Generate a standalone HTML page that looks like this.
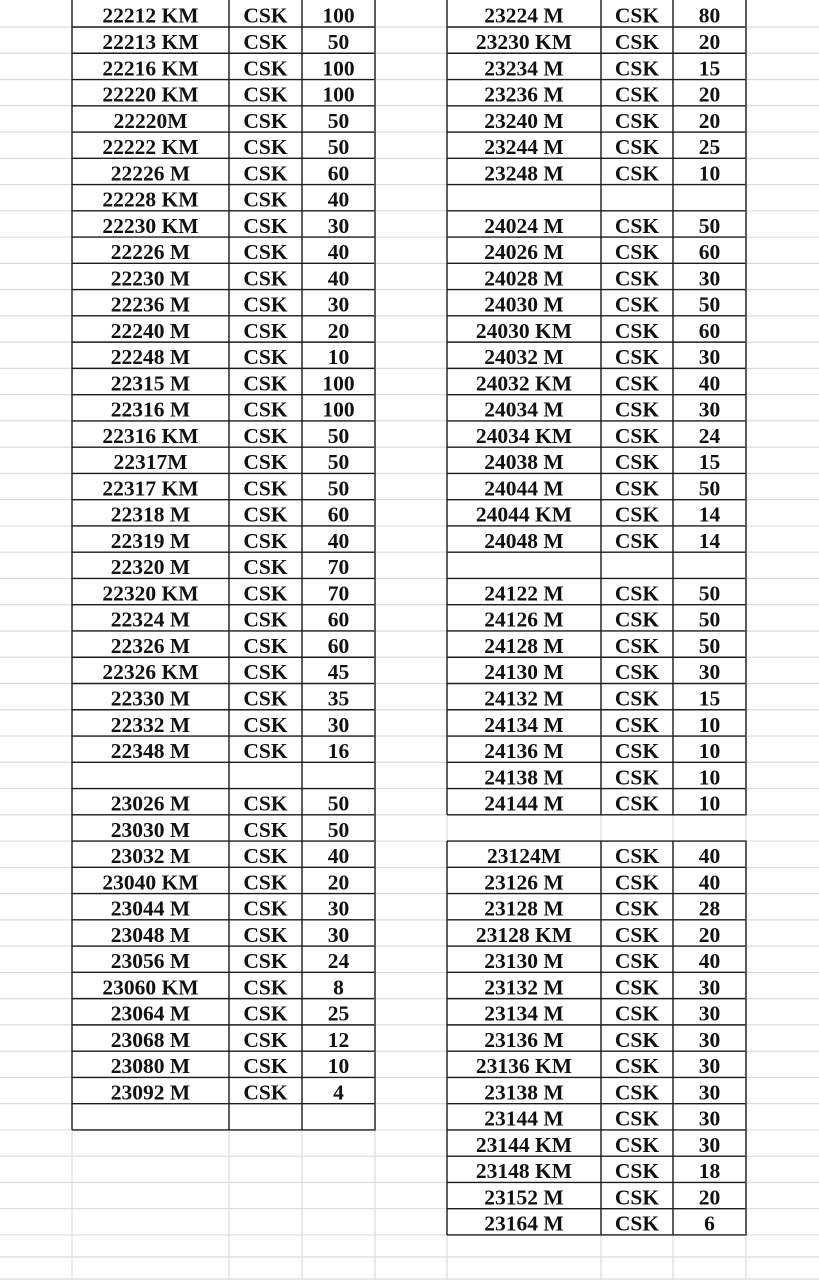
<!DOCTYPE html>
<html><head><meta charset="utf-8">
<style>
html,body{margin:0;padding:0;background:#fff;width:819px;height:1280px;overflow:hidden}
svg{display:block}
text{font-family:"Liberation Serif","Times New Roman",serif;font-weight:bold;font-size:21.5px;fill:#111;text-anchor:middle}
</style></head><body>
<svg width="819" height="1280" viewBox="0 0 819 1280" xmlns="http://www.w3.org/2000/svg">
<rect width="819" height="1280" fill="#fff"/>
<!-- gray grid -->
<path stroke="#dcdcdc" stroke-width="1.2" fill="none" d="
M0 27H819 M0 53.26H819 M0 79.52H819 M0 105.78H819 M0 132.04H819 M0 158.3H819 M0 184.56H819 M0 210.82H819 M0 237.08H819 M0 263.34H819
M0 289.6H819 M0 315.86H819 M0 342.12H819 M0 368.38H819 M0 394.64H819 M0 420.9H819 M0 447.16H819 M0 473.42H819 M0 499.68H819 M0 525.94H819
M0 552.2H819 M0 578.46H819 M0 604.72H819 M0 630.98H819 M0 657.24H819 M0 683.5H819 M0 709.76H819 M0 736.02H819 M0 762.28H819 M0 788.54H819
M0 814.8H819 M0 841.06H819 M0 867.32H819 M0 893.58H819 M0 919.84H819 M0 946.1H819 M0 972.36H819 M0 998.62H819 M0 1024.88H819 M0 1051.14H819
M0 1077.4H819 M0 1103.66H819 M0 1129.92H819 M0 1156.18H819 M0 1182.44H819 M0 1208.7H819 M0 1234.96H819 M0 1257H819 M0 1279H819
M72 0V1280 M229 0V1280 M302 0V1280 M375 0V1280 M447 0V1280 M601 0V1280 M673 0V1280 M746 0V1280"/>
<!-- left table borders -->
<path stroke="#1c1c1c" stroke-width="1.4" fill="none" d="
M72 27H375 M72 53.26H375 M72 79.52H375 M72 105.78H375 M72 132.04H375 M72 158.3H375 M72 184.56H375 M72 210.82H375 M72 237.08H375 M72 263.34H375
M72 289.6H375 M72 315.86H375 M72 342.12H375 M72 368.38H375 M72 394.64H375 M72 420.9H375 M72 447.16H375 M72 473.42H375 M72 499.68H375 M72 525.94H375
M72 552.2H375 M72 578.46H375 M72 604.72H375 M72 630.98H375 M72 657.24H375 M72 683.5H375 M72 709.76H375 M72 736.02H375 M72 762.28H375 M72 788.54H375
M72 814.8H375 M72 841.06H375 M72 867.32H375 M72 893.58H375 M72 919.84H375 M72 946.1H375 M72 972.36H375 M72 998.62H375 M72 1024.88H375 M72 1051.14H375
M72 1077.4H375 M72 1103.66H375 M72 1129.92H375
M72 0V1129.92 M229 0V1129.92 M302 0V1129.92"/>
<path stroke="#4a4a4a" stroke-width="1.8" fill="none" d="M375 0V1130.6"/>
<!-- right table block 1 -->
<path stroke="#1c1c1c" stroke-width="1.4" fill="none" d="
M447 27H746 M447 53.26H746 M447 79.52H746 M447 105.78H746 M447 132.04H746 M447 158.3H746 M447 184.56H746 M447 210.82H746 M447 237.08H746 M447 263.34H746
M447 289.6H746 M447 315.86H746 M447 342.12H746 M447 368.38H746 M447 394.64H746 M447 420.9H746 M447 447.16H746 M447 473.42H746 M447 499.68H746 M447 525.94H746
M447 552.2H746 M447 578.46H746 M447 604.72H746 M447 630.98H746 M447 657.24H746 M447 683.5H746 M447 709.76H746 M447 736.02H746 M447 762.28H746 M447 788.54H746
M447 814.8H746
M447 0V814.8 M601 0V814.8 M673 0V814.8
M447 841.06H746 M447 867.32H746 M447 893.58H746 M447 919.84H746 M447 946.1H746 M447 972.36H746 M447 998.62H746 M447 1024.88H746 M447 1051.14H746
M447 1077.4H746 M447 1103.66H746 M447 1129.92H746 M447 1156.18H746 M447 1182.44H746 M447 1208.7H746 M447 1234.96H746
M447 841.06V1234.96 M601 841.06V1234.96 M673 841.06V1234.96"/>
<path stroke="#4a4a4a" stroke-width="1.8" fill="none" d="M746 0V815.5 M746 840.4V1235.6"/>

<!-- left table text -->
<g transform="translate(0,2)">
<text x="150.5" y="20.7">22212 KM</text><text x="265.5" y="20.7">CSK</text><text x="338.5" y="20.7">100</text>
<text x="150.5" y="47">22213 KM</text><text x="265.5" y="47">CSK</text><text x="338.5" y="47">50</text>
<text x="150.5" y="73.3">22216 KM</text><text x="265.5" y="73.3">CSK</text><text x="338.5" y="73.3">100</text>
<text x="150.5" y="99.5">22220 KM</text><text x="265.5" y="99.5">CSK</text><text x="338.5" y="99.5">100</text>
<text x="150.5" y="125.8">22220M</text><text x="265.5" y="125.8">CSK</text><text x="338.5" y="125.8">50</text>
<text x="150.5" y="152">22222 KM</text><text x="265.5" y="152">CSK</text><text x="338.5" y="152">50</text>
<text x="150.5" y="178.3">22226 M</text><text x="265.5" y="178.3">CSK</text><text x="338.5" y="178.3">60</text>
<text x="150.5" y="204.6">22228 KM</text><text x="265.5" y="204.6">CSK</text><text x="338.5" y="204.6">40</text>
<text x="150.5" y="230.8">22230 KM</text><text x="265.5" y="230.8">CSK</text><text x="338.5" y="230.8">30</text>
<text x="150.5" y="257.1">22226 M</text><text x="265.5" y="257.1">CSK</text><text x="338.5" y="257.1">40</text>
<text x="150.5" y="283.3">22230 M</text><text x="265.5" y="283.3">CSK</text><text x="338.5" y="283.3">40</text>
<text x="150.5" y="309.6">22236 M</text><text x="265.5" y="309.6">CSK</text><text x="338.5" y="309.6">30</text>
<text x="150.5" y="335.9">22240 M</text><text x="265.5" y="335.9">CSK</text><text x="338.5" y="335.9">20</text>
<text x="150.5" y="362.1">22248 M</text><text x="265.5" y="362.1">CSK</text><text x="338.5" y="362.1">10</text>
<text x="150.5" y="388.4">22315 M</text><text x="265.5" y="388.4">CSK</text><text x="338.5" y="388.4">100</text>
<text x="150.5" y="414.6">22316 M</text><text x="265.5" y="414.6">CSK</text><text x="338.5" y="414.6">100</text>
<text x="150.5" y="440.9">22316 KM</text><text x="265.5" y="440.9">CSK</text><text x="338.5" y="440.9">50</text>
<text x="150.5" y="467.2">22317M</text><text x="265.5" y="467.2">CSK</text><text x="338.5" y="467.2">50</text>
<text x="150.5" y="493.4">22317 KM</text><text x="265.5" y="493.4">CSK</text><text x="338.5" y="493.4">50</text>
<text x="150.5" y="519.7">22318 M</text><text x="265.5" y="519.7">CSK</text><text x="338.5" y="519.7">60</text>
<text x="150.5" y="545.9">22319 M</text><text x="265.5" y="545.9">CSK</text><text x="338.5" y="545.9">40</text>
<text x="150.5" y="572.2">22320 M</text><text x="265.5" y="572.2">CSK</text><text x="338.5" y="572.2">70</text>
<text x="150.5" y="598.5">22320 KM</text><text x="265.5" y="598.5">CSK</text><text x="338.5" y="598.5">70</text>
<text x="150.5" y="624.7">22324 M</text><text x="265.5" y="624.7">CSK</text><text x="338.5" y="624.7">60</text>
<text x="150.5" y="651">22326 M</text><text x="265.5" y="651">CSK</text><text x="338.5" y="651">60</text>
<text x="150.5" y="677.2">22326 KM</text><text x="265.5" y="677.2">CSK</text><text x="338.5" y="677.2">45</text>
<text x="150.5" y="703.5">22330 M</text><text x="265.5" y="703.5">CSK</text><text x="338.5" y="703.5">35</text>
<text x="150.5" y="729.8">22332 M</text><text x="265.5" y="729.8">CSK</text><text x="338.5" y="729.8">30</text>
<text x="150.5" y="756">22348 M</text><text x="265.5" y="756">CSK</text><text x="338.5" y="756">16</text>
<text x="150.5" y="808.5">23026 M</text><text x="265.5" y="808.5">CSK</text><text x="338.5" y="808.5">50</text>
<text x="150.5" y="834.8">23030 M</text><text x="265.5" y="834.8">CSK</text><text x="338.5" y="834.8">50</text>
<text x="150.5" y="861.1">23032 M</text><text x="265.5" y="861.1">CSK</text><text x="338.5" y="861.1">40</text>
<text x="150.5" y="887.3">23040 KM</text><text x="265.5" y="887.3">CSK</text><text x="338.5" y="887.3">20</text>
<text x="150.5" y="913.6">23044 M</text><text x="265.5" y="913.6">CSK</text><text x="338.5" y="913.6">30</text>
<text x="150.5" y="939.8">23048 M</text><text x="265.5" y="939.8">CSK</text><text x="338.5" y="939.8">30</text>
<text x="150.5" y="966.1">23056 M</text><text x="265.5" y="966.1">CSK</text><text x="338.5" y="966.1">24</text>
<text x="150.5" y="992.4">23060 KM</text><text x="265.5" y="992.4">CSK</text><text x="338.5" y="992.4">8</text>
<text x="150.5" y="1018.6">23064 M</text><text x="265.5" y="1018.6">CSK</text><text x="338.5" y="1018.6">25</text>
<text x="150.5" y="1044.9">23068 M</text><text x="265.5" y="1044.9">CSK</text><text x="338.5" y="1044.9">12</text>
<text x="150.5" y="1071.1">23080 M</text><text x="265.5" y="1071.1">CSK</text><text x="338.5" y="1071.1">10</text>
<text x="150.5" y="1097.4">23092 M</text><text x="265.5" y="1097.4">CSK</text><text x="338.5" y="1097.4">4</text>
</g>

<!-- right table text -->
<g transform="translate(0,2)">
<text x="524" y="20.7">23224 M</text><text x="637" y="20.7">CSK</text><text x="709.5" y="20.7">80</text>
<text x="524" y="47">23230 KM</text><text x="637" y="47">CSK</text><text x="709.5" y="47">20</text>
<text x="524" y="73.3">23234 M</text><text x="637" y="73.3">CSK</text><text x="709.5" y="73.3">15</text>
<text x="524" y="99.5">23236 M</text><text x="637" y="99.5">CSK</text><text x="709.5" y="99.5">20</text>
<text x="524" y="125.8">23240 M</text><text x="637" y="125.8">CSK</text><text x="709.5" y="125.8">20</text>
<text x="524" y="152">23244 M</text><text x="637" y="152">CSK</text><text x="709.5" y="152">25</text>
<text x="524" y="178.3">23248 M</text><text x="637" y="178.3">CSK</text><text x="709.5" y="178.3">10</text>
<text x="524" y="230.8">24024 M</text><text x="637" y="230.8">CSK</text><text x="709.5" y="230.8">50</text>
<text x="524" y="257.1">24026 M</text><text x="637" y="257.1">CSK</text><text x="709.5" y="257.1">60</text>
<text x="524" y="283.3">24028 M</text><text x="637" y="283.3">CSK</text><text x="709.5" y="283.3">30</text>
<text x="524" y="309.6">24030 M</text><text x="637" y="309.6">CSK</text><text x="709.5" y="309.6">50</text>
<text x="524" y="335.9">24030 KM</text><text x="637" y="335.9">CSK</text><text x="709.5" y="335.9">60</text>
<text x="524" y="362.1">24032 M</text><text x="637" y="362.1">CSK</text><text x="709.5" y="362.1">30</text>
<text x="524" y="388.4">24032 KM</text><text x="637" y="388.4">CSK</text><text x="709.5" y="388.4">40</text>
<text x="524" y="414.6">24034 M</text><text x="637" y="414.6">CSK</text><text x="709.5" y="414.6">30</text>
<text x="524" y="440.9">24034 KM</text><text x="637" y="440.9">CSK</text><text x="709.5" y="440.9">24</text>
<text x="524" y="467.2">24038 M</text><text x="637" y="467.2">CSK</text><text x="709.5" y="467.2">15</text>
<text x="524" y="493.4">24044 M</text><text x="637" y="493.4">CSK</text><text x="709.5" y="493.4">50</text>
<text x="524" y="519.7">24044 KM</text><text x="637" y="519.7">CSK</text><text x="709.5" y="519.7">14</text>
<text x="524" y="545.9">24048 M</text><text x="637" y="545.9">CSK</text><text x="709.5" y="545.9">14</text>
<text x="524" y="598.5">24122 M</text><text x="637" y="598.5">CSK</text><text x="709.5" y="598.5">50</text>
<text x="524" y="624.7">24126 M</text><text x="637" y="624.7">CSK</text><text x="709.5" y="624.7">50</text>
<text x="524" y="651">24128 M</text><text x="637" y="651">CSK</text><text x="709.5" y="651">50</text>
<text x="524" y="677.2">24130 M</text><text x="637" y="677.2">CSK</text><text x="709.5" y="677.2">30</text>
<text x="524" y="703.5">24132 M</text><text x="637" y="703.5">CSK</text><text x="709.5" y="703.5">15</text>
<text x="524" y="729.8">24134 M</text><text x="637" y="729.8">CSK</text><text x="709.5" y="729.8">10</text>
<text x="524" y="756">24136 M</text><text x="637" y="756">CSK</text><text x="709.5" y="756">10</text>
<text x="524" y="782.3">24138 M</text><text x="637" y="782.3">CSK</text><text x="709.5" y="782.3">10</text>
<text x="524" y="808.5">24144 M</text><text x="637" y="808.5">CSK</text><text x="709.5" y="808.5">10</text>
<text x="524" y="861.1">23124M</text><text x="637" y="861.1">CSK</text><text x="709.5" y="861.1">40</text>
<text x="524" y="887.3">23126 M</text><text x="637" y="887.3">CSK</text><text x="709.5" y="887.3">40</text>
<text x="524" y="913.6">23128 M</text><text x="637" y="913.6">CSK</text><text x="709.5" y="913.6">28</text>
<text x="524" y="939.8">23128 KM</text><text x="637" y="939.8">CSK</text><text x="709.5" y="939.8">20</text>
<text x="524" y="966.1">23130 M</text><text x="637" y="966.1">CSK</text><text x="709.5" y="966.1">40</text>
<text x="524" y="992.4">23132 M</text><text x="637" y="992.4">CSK</text><text x="709.5" y="992.4">30</text>
<text x="524" y="1018.6">23134 M</text><text x="637" y="1018.6">CSK</text><text x="709.5" y="1018.6">30</text>
<text x="524" y="1044.9">23136 M</text><text x="637" y="1044.9">CSK</text><text x="709.5" y="1044.9">30</text>
<text x="524" y="1071.1">23136 KM</text><text x="637" y="1071.1">CSK</text><text x="709.5" y="1071.1">30</text>
<text x="524" y="1097.4">23138 M</text><text x="637" y="1097.4">CSK</text><text x="709.5" y="1097.4">30</text>
<text x="524" y="1123.7">23144 M</text><text x="637" y="1123.7">CSK</text><text x="709.5" y="1123.7">30</text>
<text x="524" y="1149.9">23144 KM</text><text x="637" y="1149.9">CSK</text><text x="709.5" y="1149.9">30</text>
<text x="524" y="1176.2">23148 KM</text><text x="637" y="1176.2">CSK</text><text x="709.5" y="1176.2">18</text>
<text x="524" y="1202.4">23152 M</text><text x="637" y="1202.4">CSK</text><text x="709.5" y="1202.4">20</text>
<text x="524" y="1228.7">23164 M</text><text x="637" y="1228.7">CSK</text><text x="709.5" y="1228.7">6</text>
</g>
</svg>
</body></html>
